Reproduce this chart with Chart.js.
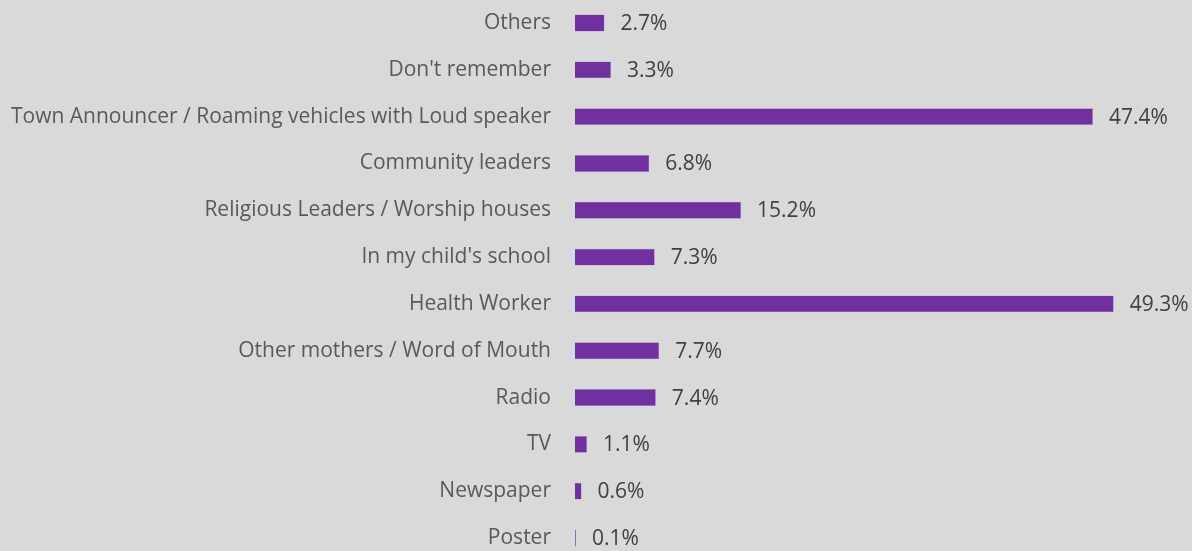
<!DOCTYPE html>
<html>
<head>
<meta charset="utf-8">
<script src="https://cdn.jsdelivr.net/npm/chart.js@4/dist/chart.umd.min.js"></script>
<style>
  html, body { margin: 0; padding: 0; background: #d9d9d9; overflow: hidden; }
  #chart { position: absolute; left: -13px; top: -29px; }
</style>
</head>
<body>
<canvas id="chart" width="1205" height="619"></canvas>
<script>
const categories = [
  'Others',
  "Don't remember",
  'Town Announcer / Roaming vehicles with Loud speaker',
  'Community leaders',
  'Religious Leaders / Worship houses',
  "In my child's school",
  'Health Worker',
  'Other mothers / Word of Mouth',
  'Radio',
  'TV',
  'Newspaper',
  'Poster'
];
const percents = [2.7, 3.3, 47.4, 6.8, 15.2, 7.3, 49.3, 7.7, 7.4, 1.1, 0.6, 0.1];

const FONT = "'Open Sans', sans-serif";

// value labels to the right of each bar
const valueLabels = {
  id: 'valueLabels',
  afterDatasetsDraw(chart) {
    const ctx = chart.ctx;
    const meta = chart.getDatasetMeta(0);
    ctx.save();
    ctx.font = '21px ' + FONT;
    ctx.fillStyle = '#404040';
    ctx.textAlign = 'left';
    ctx.textBaseline = 'middle';
    meta.data.forEach((bar, i) => {
      ctx.fillText(percents[i].toFixed(1) + '%', bar.x + 16, bar.y + 1);
    });
    ctx.restore();
  }
};

const ctx = document.getElementById('chart').getContext('2d');
new Chart(ctx, {
  type: 'bar',
  data: {
    labels: categories,
    datasets: [{
      data: percents,
      backgroundColor: '#7030a0',
      borderColor: '#b48fd0',
      borderWidth: 0.5,
      barPercentage: 0.72,
      categoryPercentage: 0.5
    }]
  },
  options: {
    indexAxis: 'y',
    responsive: false,
    animation: false,
    layout: { padding: { left: 8, right: 16, top: 0, bottom: 0 } },
    plugins: {
      legend: { display: false },
      tooltip: { enabled: false }
    },
    scales: {
      x: {
        display: false,
        min: 0,
        max: 55
      },
      y: {
        grid: { display: false },
        border: { display: false },
        ticks: {
          color: '#595959',
          padding: 16,
          font: { family: FONT, size: 21 }
        }
      }
    }
  },
  plugins: [valueLabels]
});
</script>
</body>
</html>
